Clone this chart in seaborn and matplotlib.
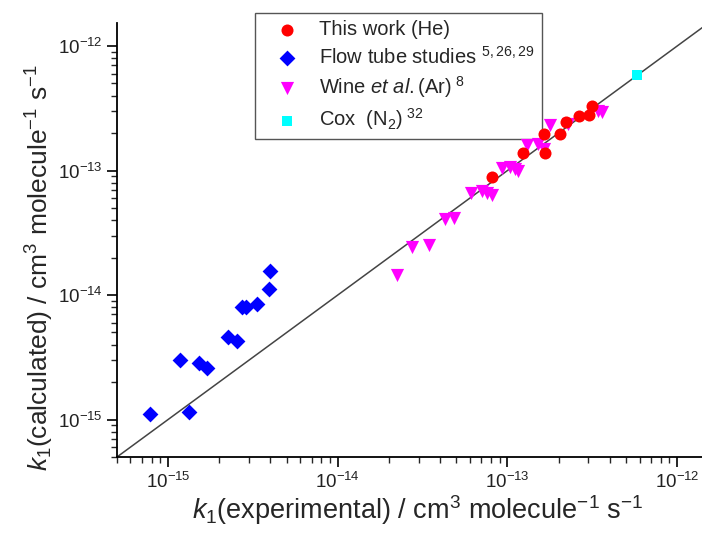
import numpy as np
import pandas as pd
import matplotlib
matplotlib.use("Agg")
import matplotlib.pyplot as plt
import seaborn as sns
from matplotlib.ticker import FixedLocator, NullFormatter, FuncFormatter

# ---- data ----
he_x = [8.1e-14, 1.24e-13, 1.63e-13, 1.67e-13, 2.04e-13, 2.22e-13, 2.65e-13, 3.03e-13, 3.13e-13]
he_y = [8.9e-14, 1.38e-13, 1.96e-13, 1.38e-13, 1.98e-13, 2.43e-13, 2.72e-13, 2.77e-13, 3.27e-13]

flow_x = [7.8e-16, 1.17e-15, 1.33e-15, 1.52e-15, 1.70e-15, 2.26e-15, 2.56e-15, 2.71e-15, 2.86e-15, 3.35e-15, 3.93e-15, 3.96e-15]
flow_y = [1.11e-15, 3.03e-15, 1.14e-15, 2.83e-15, 2.58e-15, 4.58e-15, 4.31e-15, 7.98e-15, 7.98e-15, 8.5e-15, 1.12e-14, 1.57e-14]

wine_x = [2.23e-14, 2.74e-14, 3.46e-14, 4.30e-14, 4.81e-14, 6.11e-14, 7.06e-14, 7.55e-14, 8.09e-14,
          9.25e-14, 1.04e-13, 1.11e-13, 1.16e-13, 1.30e-13, 1.52e-13, 1.63e-13, 1.78e-13, 2.28e-13,
          3.43e-13, 3.62e-13]
wine_y = [1.44e-14, 2.42e-14, 2.50e-14, 4.09e-14, 4.17e-14, 6.62e-14, 6.82e-14, 6.6e-14, 6.30e-14,
          1.05e-13, 1.06e-13, 1.03e-13, 9.87e-14, 1.59e-13, 1.64e-13, 1.49e-13, 2.30e-13, 2.37e-13,
          3.03e-13, 2.94e-13]

cox_x = [5.8e-13]
cox_y = [5.8e-13]

diag = [5e-16, 1.6e-12]

major_ticks = [1e-15, 1e-14, 1e-13, 1e-12]

labels = ["This work (He)", "Flow tube studies $^{5,26,29}$",
          r"Wine $\mathit{et\ al.}$(Ar)$^{\ 8}$", r"Cox  (N$_2$)$^{\ 32}$"]

# ---- style ----
sns.set_style("white")
plt.rcParams["font.family"] = ["Liberation Sans", "DejaVu Sans"]
plt.rcParams["mathtext.fontset"] = "custom"
plt.rcParams["mathtext.rm"] = "Liberation Sans"
plt.rcParams["mathtext.it"] = "Liberation Sans:italic"
plt.rcParams["mathtext.bf"] = "Liberation Sans:bold"

fig = plt.figure(figsize=(7.02, 5.41), dpi=100)
ax = fig.add_axes([117/702, 1-457/541, 1-117/702, (457-23)/541])

diag_df = pd.DataFrame({"x": diag, "y": diag})
sns.lineplot(data=diag_df, x="x", y="y", color="#444444", linewidth=1.1, ax=ax, legend=False)

sns.scatterplot(x=flow_x, y=flow_y, color="#0000ff", marker="D", s=65, linewidth=0, label=labels[1], ax=ax, zorder=3)
sns.scatterplot(x=wine_x, y=wine_y, color="#ff00ff", marker="v", s=90, linewidth=0, label=labels[2], ax=ax, zorder=3)
sns.scatterplot(x=cox_x, y=cox_y, color="#00ffff", marker="s", s=50, linewidth=0, label=labels[3], ax=ax, zorder=3)
sns.scatterplot(x=he_x, y=he_y, color="#ff0000", marker="o", s=75, linewidth=0, label=labels[0], ax=ax, zorder=4)

ax.set_xscale("log")
ax.set_yscale("log")
ax.set_xlim(5e-16, 1.4e-12)
ax.set_ylim(5e-16, 1.53e-12)

minor_ticks = [m * t for t in [1e-16] + major_ticks for m in range(2, 10)]
fmt = FuncFormatter(lambda v, p: r"$10^{%d}$" % int(round(np.log10(v))))
for axis in (ax.xaxis, ax.yaxis):
    axis.set_major_locator(FixedLocator(major_ticks))
    axis.set_minor_locator(FixedLocator(minor_ticks))
    axis.set_minor_formatter(NullFormatter())
    axis.set_major_formatter(fmt)

ax.tick_params(which="major", direction="out", length=7, width=1.2, labelsize=13.5,
               colors="black", labelcolor="#222222", bottom=True, left=True)
ax.tick_params(which="minor", direction="out", length=4, width=1.0, bottom=True, left=True)

for side in ("top", "right"):
    ax.spines[side].set_visible(False)
for side in ("left", "bottom"):
    ax.spines[side].set_color("black")
    ax.spines[side].set_linewidth(1.3)

ax.set_xlabel(r"$k_1$(experimental) / cm$^3$ molecule$^{-1}$ s$^{-1}$", fontsize=19.5)
ax.set_ylabel(r"$k_1$(calculated) / cm$^3$ molecule$^{-1}$ s$^{-1}$", fontsize=19)
ax.xaxis.set_label_coords((418-117)/585, (457-493)/434)
ax.yaxis.set_label_coords((56-117)/585, (457-268)/434)

handles, labs = ax.get_legend_handles_labels()
order = [labs.index(l) for l in labels]
leg = ax.legend([handles[i] for i in order], [labs[i] for i in order],
                loc="upper left", bbox_to_anchor=((255-117)/585, (457-13)/434), borderaxespad=0,
                fontsize=14.5, frameon=True, fancybox=False, edgecolor="#555555", framealpha=1,
                handletextpad=0.35, borderpad=0.35, labelspacing=0.32, handlelength=2.5)
leg.get_frame().set_linewidth(1.0)
leg.set_zorder(2.5)

fig.savefig("out.png", dpi=100)
